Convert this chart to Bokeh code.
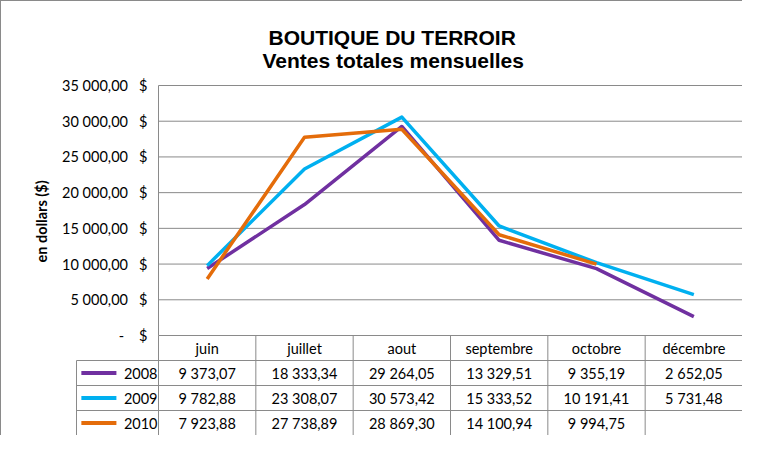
from bokeh.plotting import figure
from bokeh.models import Range1d, FixedTicker, Title
from bokeh.core.properties import value
from bokeh.embed import file_html
from bokeh.resources import INLINE

# ---------------- data ----------------
months = ["juin", "juillet", "aout", "septembre", "octobre", "décembre"]
years = ["2008", "2009", "2010"]
sales_2008 = [9373.07, 18333.34, 29264.05, 13329.51, 9355.19, 2652.05]
sales_2009 = [9782.88, 23308.07, 30573.42, 15333.52, 10191.41, 5731.48]
sales_2010 = [7923.88, 27738.89, 28869.30, 14100.94, 9994.75]
series = [sales_2008, sales_2009, sales_2010]
colors = ["#7030A0", "#00B0F0", "#E46C0A"]
y_ticks = [0, 5000, 10000, 15000, 20000, 25000, 30000, 35000]

NB = "\u00a0"


def fr(v):
    return f"{v:,.2f}".replace(",", " ").replace(".", ",")


def tick_label(t):
    return (fr(t) if t else "-" + NB * 1) + NB * 3 + "$"


FONT = "Lato"
FS = "14.5px"

# ---------------- layout (pixels) ----------------
W, H = 742, 435
FRAME_L, FRAME_T = 74, 83
COL0 = 157          # left edge of first month column
RIGHT = 741         # right border of the table
LEG_L = 75          # left border of the legend column
Y_TOP, Y_ZERO = 84, 334   # pixel rows of max tick and zero
T_BOT = 434               # table bottom border
n = len(months)
colw = (RIGHT - COL0) / n
px_per_unit = (Y_ZERO - Y_TOP) / y_ticks[-1]
row_h = (T_BOT - Y_ZERO) / 4

x_start = (FRAME_L - COL0) / colw
x_end = n + (W - RIGHT) / colw
y_end = y_ticks[-1] + (Y_TOP - FRAME_T) / px_per_unit
y_start = -(H - Y_ZERO) / px_per_unit
t_start = -(H - T_BOT) / row_h
t_end = 4 + (Y_ZERO - FRAME_T) / row_h
leg_left = (LEG_L - COL0) / colw

p = figure(width=W, height=H, output_backend="svg", toolbar_location=None,
           x_range=Range1d(x_start, x_end), y_range=Range1d(y_start, y_end),
           x_axis_location=None, min_border_left=FRAME_L, min_border_right=0,
           min_border_top=FRAME_T, min_border_bottom=0)
p.extra_y_ranges = {"tbl": Range1d(t_start, t_end)}
p.styles = {"border-left": "1px solid #8a8a8a", "border-top": "1px solid #8a8a8a"}
p.outline_line_color = None
p.xgrid.visible = False
p.ygrid.visible = False
p.background_fill_color = "white"
p.border_fill_color = "white"

# titles
sub = Title(text="Ventes totales mensuelles", align="left", offset=187,
            text_font="Liberation Sans", text_font_size="21px",
            text_font_style="bold", text_color="black", standoff=25)
main = Title(text="BOUTIQUE DU TERROIR", align="left", offset=193,
             text_font="Liberation Sans", text_font_size="21px",
             text_font_style="bold", text_color="black", standoff=-28)
p.add_layout(sub, "above")
p.add_layout(main, "above")

# y axis
ax = p.yaxis[0]
ax.ticker = FixedTicker(ticks=y_ticks)
ax.major_label_overrides = {t: tick_label(t) for t in y_ticks}
ax.axis_line_color = None
ax.major_tick_line_color = None
ax.minor_tick_line_color = None
ax.major_tick_out = 0
ax.major_tick_in = 0
ax.major_label_standoff = -72
ax.major_label_text_font = FONT
ax.major_label_text_font_size = FS
ax.major_label_text_color = "black"

ylab = Title(text="en dollars ($)", align="left", offset=174,
             text_font=FONT, text_font_size=FS, text_font_style="bold",
             text_color="black", standoff=20)
p.add_layout(ylab, "left")

GRID = "#8a8a8a"

# horizontal grid lines
p.segment(x0=[0] * len(y_ticks), x1=[n] * len(y_ticks), y0=y_ticks, y1=y_ticks,
          line_color=GRID, line_width=1)
# left edge of plot area
p.segment(x0=[0], x1=[0], y0=[0], y1=[y_ticks[-1]], line_color=GRID, line_width=1)

# table grid: column borders through the header and data rows
p.segment(x0=list(range(n + 1)), x1=list(range(n + 1)), y0=[0] * (n + 1),
          y1=[4] * (n + 1), y_range_name="tbl", line_color=GRID, line_width=1)
# row borders
rows_t = [3, 2, 1, 0]
p.segment(x0=[leg_left] * 4, x1=[n] * 4, y0=rows_t, y1=rows_t,
          y_range_name="tbl", line_color=GRID, line_width=1)
# legend column left border
p.segment(x0=[leg_left], x1=[leg_left], y0=[0], y1=[3], y_range_name="tbl",
          line_color=GRID, line_width=1)

# series lines
for vals, c in zip(series, colors):
    xs = [i + 0.5 for i in range(len(vals))]
    p.line(xs, vals, line_color=c, line_width=3.5, line_join="round")

# header (months)
p.text(x=[i + 0.5 for i in range(n)], y=[3.5] * n, text=months,
       y_range_name="tbl", text_align="center", text_baseline="middle",
       text_font=value(FONT), text_font_size=FS, text_color="black")

# rows
for k, (yr, vals, c) in enumerate(zip(years, series, colors)):
    t = 2.5 - k
    p.text(x=[i + 0.5 for i in range(len(vals))], y=[t] * len(vals),
           text=[fr(v) for v in vals], y_range_name="tbl", text_align="center",
           text_baseline="middle", text_font=value(FONT),
           text_font_size=FS, text_color="black")
    p.segment(x0=[leg_left + 0.05], x1=[leg_left + 0.41], y0=[t], y1=[t],
              y_range_name="tbl", line_color=c, line_width=4)
    p.text(x=[-0.01], y=[t], text=[yr], y_range_name="tbl", text_align="right",
           text_baseline="middle", text_font=value(FONT),
           text_font_size=FS, text_color="black")

open("out.html", "w").write(file_html(p, INLINE))
